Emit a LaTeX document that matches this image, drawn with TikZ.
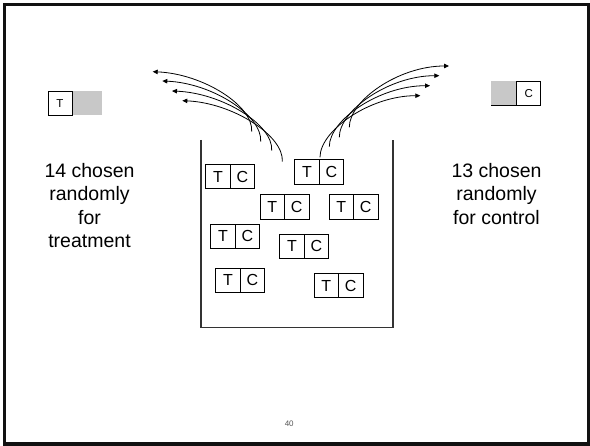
\documentclass[tikz,border=0pt]{standalone}
\usepackage{fontspec}
\setmainfont{Liberation Sans}
\usetikzlibrary{arrows.meta,positioning}
\definecolor{ShadeGray}{HTML}{C8C8C8}
\definecolor{FrameBlack}{HTML}{111111}
\definecolor{PageGray}{HTML}{555555}

\begin{document}
\begin{tikzpicture}[
  x=1pt, y=-1pt,
  half/.style={draw, line width=0.9pt, minimum width=24.5pt, minimum height=24.5pt, inner sep=0pt, outer sep=0pt, font=\fontsize{16}{18}\selectfont},
  smallhalf/.style={draw, line width=0.9pt, minimum width=24pt, minimum height=24pt, inner sep=0pt, outer sep=0pt, font=\fontsize{11.5}{13}\selectfont},
  shade/.style={fill=ShadeGray, minimum height=24pt, inner sep=0pt, outer sep=0pt},
  bigtext/.style={align=center, inner sep=0pt, anchor=north, font=\fontsize{19.5}{23.3}\selectfont},
  pick/.style={line width=0.8pt, -{Triangle[length=5pt, width=4.5pt]}}
]
\useasboundingbox (0,0) rectangle (590,446);
\draw[FrameBlack, line width=3.5pt] (4.3,4.7) rectangle (588.5,444);

\node[shade, minimum width=29.7pt] (tgray) at (86.85,103.2) {};
\node[smallhalf, left=0pt of tgray] (tpick) {T};
\node[shade, minimum width=25.7pt] (cgray) at (503.85,93.4) {};
\node[smallhalf, right=0pt of cgray] (cpick) {C};
\draw[line width=0.9pt] (cgray.south west) -- (cgray.south east);

\node[bigtext] (treat) at (89.5,163.2) {14 chosen\\randomly\\for\\treatment};
\node[bigtext] (control) at (496.5,163.2) {13 chosen\\randomly\\for control};

\draw[line width=1.2pt, black!80] (201,140) -- (201,327.3) -- (393,327.3) -- (393,140);

\node[half] (t1) at (217.95,176.7) {T};
\node[half, right=0pt of t1] (c1) {C};
\node[half] (t2) at (306.95,172.2) {T};
\node[half, right=0pt of t2] (c2) {C};
\node[half] (t3) at (272.25,206.9) {T};
\node[half, right=0pt of t3] (c3) {C};
\node[half] (t4) at (341.25,206.9) {T};
\node[half, right=0pt of t4] (c4) {C};
\node[half] (t5) at (222.95,236.4) {T};
\node[half, right=0pt of t5] (c5) {C};
\node[half] (t6) at (291.95,246.4) {T};
\node[half, right=0pt of t6] (c6) {C};
\node[half] (t7) at (227.95,280.4) {T};
\node[half, right=0pt of t7] (c7) {C};
\node[half] (t8) at (326.25,285.5) {T};
\node[half, right=0pt of t8] (c8) {C};

\coordinate (lfrom1) at (251.7,131.7);
\coordinate (lfrom2) at (260.7,141.7);
\coordinate (lfrom3) at (271.7,150.7);
\coordinate (lfrom4) at (282.3,161.7);
\coordinate (lto1) at (152.7,71.7);
\coordinate (lto2) at (162.3,81);
\coordinate (lto3) at (172,91);
\coordinate (lto4) at (182.3,100.7);
\coordinate (rfrom1) at (320,157.3);
\coordinate (rfrom2) at (329.3,146.7);
\coordinate (rfrom3) at (339.3,137.3);
\coordinate (rfrom4) at (349.3,127.3);
\coordinate (rto1) at (420.3,95.7);
\coordinate (rto2) at (430,85.7);
\coordinate (rto3) at (439.3,75.7);
\coordinate (rto4) at (449,66);

\draw[pick] (lfrom1) .. controls +(2,-26) and +(50,2) .. (lto1);
\draw[pick] (lfrom2) .. controls +(2,-26) and +(50,2) .. (lto2);
\draw[pick] (lfrom3) .. controls +(2,-26) and +(50,2) .. (lto3);
\draw[pick] (lfrom4) .. controls +(2,-26) and +(50,2) .. (lto4);
\draw[pick] (rfrom1) .. controls +(0,-27) and +(-50,0) .. (rto1);
\draw[pick] (rfrom2) .. controls +(0,-27) and +(-50,0) .. (rto2);
\draw[pick] (rfrom3) .. controls +(0,-27) and +(-50,0) .. (rto3);
\draw[pick] (rfrom4) .. controls +(0,-27) and +(-50,0) .. (rto4);

\node[PageGray, font=\fontsize{8}{9}\selectfont] (page) at (289.2,423.9) {40};

\end{tikzpicture}
\end{document}
